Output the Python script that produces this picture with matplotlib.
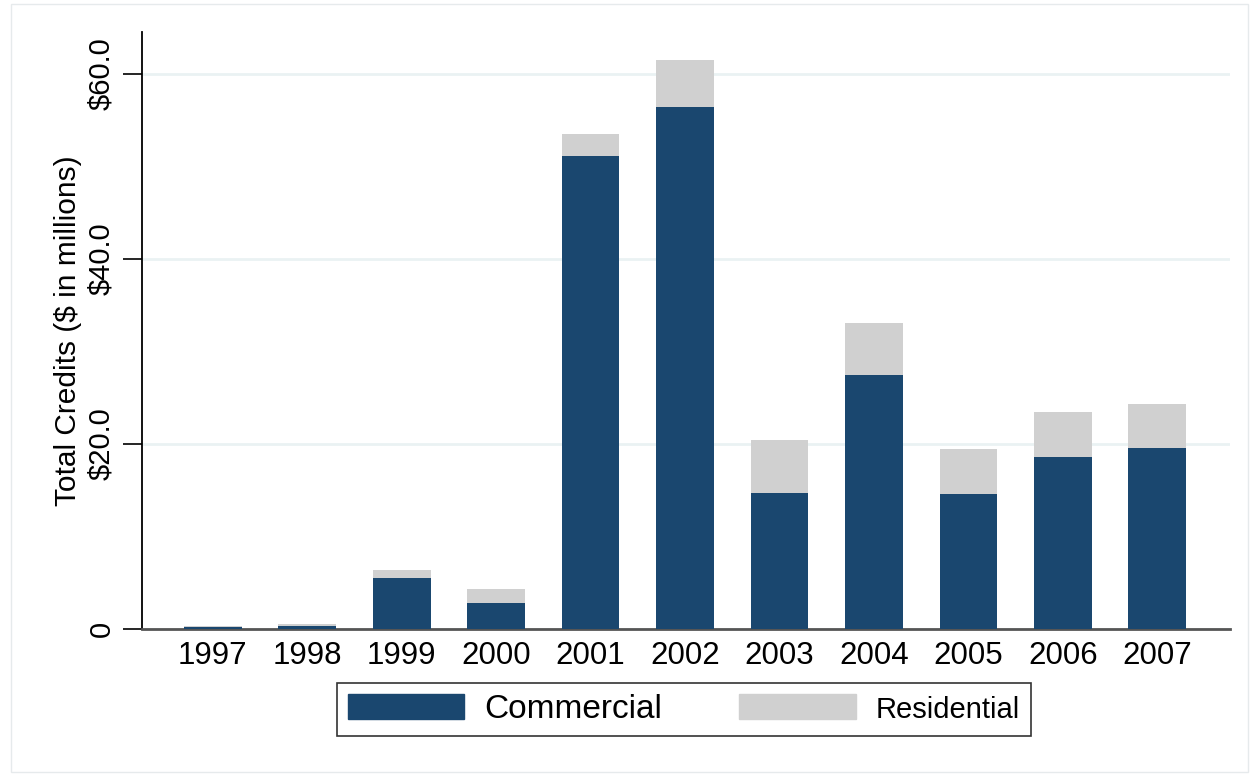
import numpy as np
import matplotlib
matplotlib.use("Agg")
import matplotlib.pyplot as plt
from matplotlib.patches import Rectangle, Patch

years = ['1997', '1998', '1999', '2000', '2001', '2002',
         '2003', '2004', '2005', '2006', '2007']
commercial = [0.2, 0.3, 5.5, 2.8, 51.1, 56.4, 14.7, 27.4, 14.6, 18.6, 19.6]
residential_total = [0.3, 0.5, 6.4, 4.3, 53.5, 61.5, 20.4, 33.1, 19.5, 23.4, 24.3]
residential = [t - c for t, c in zip(residential_total, commercial)]

yticks = [0, 20, 40, 60]
ytick_labels = ['0', '$20.0', '$40.0', '$60.0']

plt.rcParams['font.family'] = ['Liberation Sans', 'DejaVu Sans']

navy = '#1a476f'
gray = '#d0d0d0'

fig = plt.figure(figsize=(12.54, 7.82), dpi=100)
ax = fig.add_axes([142 / 1254, 1 - 629 / 782, (1230 - 142) / 1254, (629 - 32) / 782])

x = np.arange(len(years))
ax.bar(x, commercial, width=0.61, color=navy, zorder=3)
ax.bar(x, residential, width=0.61, bottom=commercial, color=gray, zorder=3)

ax.set_xlim(-0.75, 10.77)
ax.set_ylim(0, 64.5)
ax.set_xticks(x)
ax.set_xticklabels(years, fontsize=22.5)
ax.tick_params(axis='x', length=0, pad=9)
ax.set_yticks(yticks)
ax.set_yticklabels(ytick_labels, fontsize=21, rotation=90, va='center')
ax.tick_params(axis='y', length=14, width=1.2, pad=5)
ax.set_ylabel('Total Credits ($ in millions)', fontsize=21.5, labelpad=4)

ax.grid(axis='y', color='#eaf2f3', linewidth=2, zorder=0)
for side in ['top', 'right']:
    ax.spines[side].set_visible(False)
ax.spines['left'].set_linewidth(1.3)
ax.spines['bottom'].set_color('#555555')
ax.spines['bottom'].set_linewidth(2)

handles = [Patch(color=navy), Patch(color=gray)]
leg = fig.legend(handles, ['Commercial', 'Residential'], loc='center',
                 bbox_to_anchor=(337 / 1254, 1 - 736 / 782, 694 / 1254, 53 / 782),
                 mode='expand', ncol=2, fontsize=24, frameon=True, fancybox=False,
                 edgecolor='black', handlelength=3.5, handleheight=0.8,
                 columnspacing=1.4, handletextpad=0.6, borderpad=0.32,
                 borderaxespad=0)
leg.get_frame().set_linewidth(1.2)
leg.get_texts()[1].set_fontsize(21)

fig.patches.append(Rectangle((11 / 1254, 1 - 772 / 782), (1248 - 11) / 1254, (772 - 4) / 782,
                             transform=fig.transFigure, fill=False,
                             edgecolor='#e6eaec', linewidth=1))

fig.savefig('out.png', dpi=100, facecolor='white')
